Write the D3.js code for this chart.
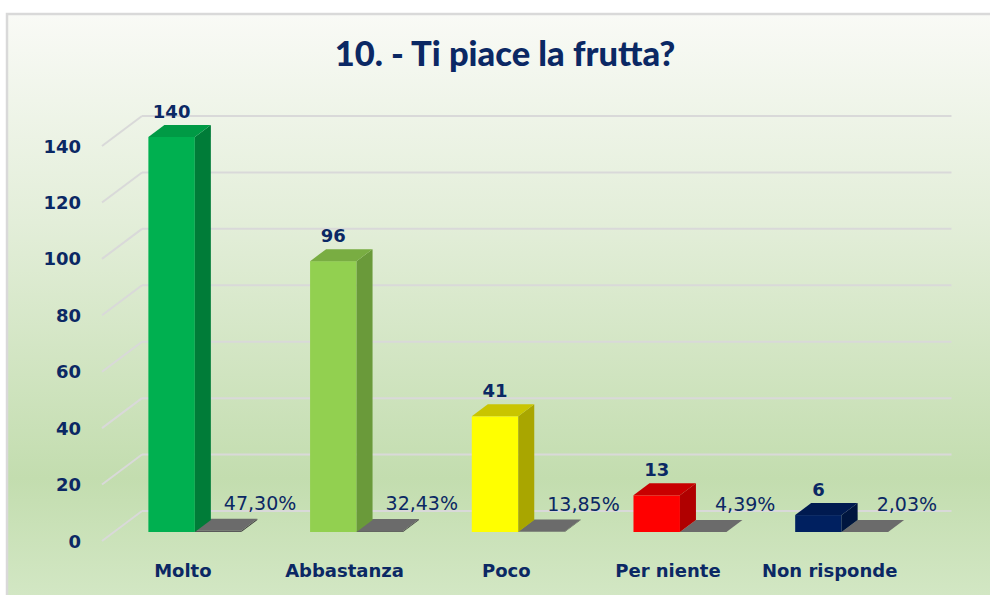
<!DOCTYPE html>
<html>
<head>
<meta charset="utf-8">
<script src="https://cdn.jsdelivr.net/npm/d3@7"></script>
<style>
  body { margin: 0; background: #fff; }
  svg { display: block; }
</style>
</head>
<body>
<div id="chart"></div>
<script>
// 10. - Ti piace la frutta?  (pseudo 3D column chart)
var categories = ["Molto", "Abbastanza", "Poco", "Per niente", "Non risponde"];
var counts = [140, 96, 41, 13, 6];
var percents = [47.30, 32.43, 13.85, 4.39, 2.03];
var yTicks = [0, 20, 40, 60, 80, 100, 120, 140];

var fronts = ["#00B050", "#92D050", "#FFFF00", "#FF0000", "#002060"];
var sides  = ["#007C38", "#6A9A3A", "#A9A600", "#B00000", "#00163F"];
var tops   = ["#009A45", "#79AD42", "#C9C500", "#C80000", "#001A50"];

var W = 990, H = 595;
var navy = "#0B2864";

// depth of the 3D box (back wall offset from the front plane)
var depthX = 40, depthY = 30;
var d0 = 0.3, d1 = 0.7; // bars sit between these depths

var svg = d3.select("#chart")
  .append("svg")
    .attr("width", W)
    .attr("height", H);

var defs = svg.append("defs");
var grad = defs.append("linearGradient")
    .attr("id", "bg")
    .attr("x1", 0).attr("y1", 0).attr("x2", 0).attr("y2", 1);
grad.append("stop").attr("offset", "0%").attr("stop-color", "#F9FAF6");
grad.append("stop").attr("offset", "35%").attr("stop-color", "#E3EED9");
grad.append("stop").attr("offset", "78%").attr("stop-color", "#C3DDAF");
grad.append("stop").attr("offset", "100%").attr("stop-color", "#D4E8C6");

svg.append("rect")
    .attr("x", 7).attr("y", 14)
    .attr("width", W).attr("height", H)
    .attr("fill", "url(#bg)")
    .attr("stroke", "#D9D9D9")
    .attr("stroke-width", 2.5);

// scales
var x = d3.scaleBand()
    .domain(categories)
    .range([102, 910.5])
    .padding(0);

var xs = d3.scaleBand()
    .domain(["count", "pct"])
    .range([0, x.bandwidth()])
    .paddingInner(0)
    .paddingOuter(0.74);

var y = d3.scaleLinear()
    .domain([0, 140])
    .range([541, 146]);

// gridlines: back wall + left wall diagonals
var grid = svg.append("g")
    .attr("stroke", "#D9D9D9")
    .attr("stroke-width", 2)
    .attr("fill", "none");

grid.selectAll("line.back")
  .data(yTicks)
  .enter()
  .append("line")
    .attr("class", "back")
    .attr("x1", x.range()[0] + depthX)
    .attr("x2", x.range()[1] + depthX + 1)
    .attr("y1", function(d) { return y(d) - depthY; })
    .attr("y2", function(d) { return y(d) - depthY; });

grid.selectAll("line.side")
  .data(yTicks)
  .enter()
  .append("line")
    .attr("class", "side")
    .attr("x1", x.range()[0])
    .attr("x2", x.range()[0] + depthX)
    .attr("y1", function(d) { return y(d); })
    .attr("y2", function(d) { return y(d) - depthY; });

// y axis labels
svg.append("g")
  .selectAll("text")
  .data(yTicks)
  .enter()
  .append("text")
    .attr("x", 81)
    .attr("y", function(d) { return y(d) + 6.5; })
    .attr("text-anchor", "end")
    .style("font-family", "DejaVu Sans")
    .style("font-weight", "bold")
    .style("font-size", "18px")
    .style("fill", navy)
    .text(function(d) { return d; });

// draw one box
var ddx = depthX * (d1 - d0), ddy = depthY * (d1 - d0);
function box(g, x0, w, yt, yb, cf, cs, ct) {
  g.append("rect")
    .attr("x", x0).attr("y", yt)
    .attr("width", w).attr("height", Math.max(0, yb - yt))
    .attr("fill", cf);
  g.append("path")
    .attr("d", "M" + (x0 + w) + "," + yb +
               "L" + (x0 + w + ddx) + "," + (yb - ddy) +
               "L" + (x0 + w + ddx) + "," + (yt - ddy) +
               "L" + (x0 + w) + "," + yt + "Z")
    .attr("fill", cs);
  g.append("path")
    .attr("d", "M" + x0 + "," + yt +
               "L" + (x0 + w) + "," + yt +
               "L" + (x0 + w + ddx) + "," + (yt - ddy) +
               "L" + (x0 + ddx) + "," + (yt - ddy) + "Z")
    .attr("fill", ct);
}

var bars = svg.append("g");
categories.forEach(function(c, i) {
  var g = bars.append("g");
  var shiftX = depthX * d0, shiftY = depthY * d0;
  var yb = y(0) - shiftY;
  // percentage series (on same axis, nearly flat)
  var xp = x(c) + xs("pct") + shiftX;
  box(g, xp, xs.bandwidth(), y(percents[i] / 100) - shiftY, yb, "#595959", "#404040", "#6B6B6B");
  // count series
  var xc = x(c) + xs("count") + shiftX;
  box(g, xc, xs.bandwidth(), y(counts[i]) - shiftY, yb, fronts[i], sides[i], tops[i]);

  g.append("text")
    .attr("x", xc + xs.bandwidth() / 2)
    .attr("y", y(counts[i]) - shiftY - ddy - 7)
    .attr("text-anchor", "middle")
    .style("font-family", "DejaVu Sans")
    .style("font-weight", "bold")
    .style("font-size", "18px")
    .style("fill", navy)
    .text(counts[i]);

  g.append("text")
    .attr("x", xp + xs.bandwidth() / 2 + 42)
    .attr("y", y(percents[i] / 100) - shiftY - ddy - 9)
    .attr("text-anchor", "middle")
    .style("font-family", "DejaVu Sans")
    .style("font-size", "19px")
    .style("fill", navy)
    .text(percents[i].toFixed(2).replace(".", ",") + "%");
});

// category labels
svg.append("g")
  .selectAll("text")
  .data(categories)
  .enter()
  .append("text")
    .attr("x", function(d) { return x(d) + x.bandwidth() / 2; })
    .attr("y", 577)
    .attr("text-anchor", "middle")
    .style("font-family", "DejaVu Sans")
    .style("font-weight", "bold")
    .style("font-size", "18px")
    .style("fill", navy)
    .text(function(d) { return d; });

// title
svg.append("text")
    .attr("x", 505)
    .attr("y", 66)
    .attr("text-anchor", "middle")
    .style("font-family", "Lato")
    .style("font-weight", "900")
    .style("font-size", "34.5px")
    .style("fill", navy)
    .text("10. - Ti piace la frutta?");
</script>
</body>
</html>
